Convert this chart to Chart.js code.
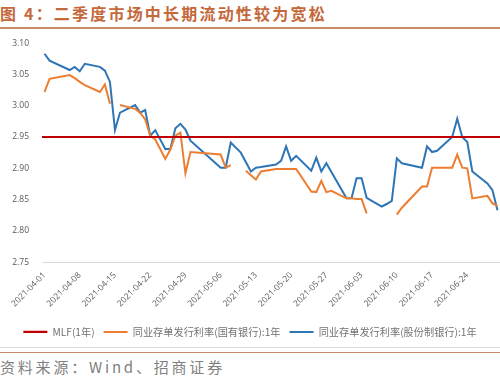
<!DOCTYPE html>
<html>
<head>
<meta charset="utf-8">
<script src="https://cdn.jsdelivr.net/npm/chart.js@4/dist/chart.umd.min.js"></script>
<style>
  html, body { margin: 0; padding: 0; background: #fff; }
  body { width: 500px; height: 376px; position: relative; overflow: hidden; font-family: "Noto Sans CJK SC", sans-serif; }
  #title { position: absolute; left: 0; top: 1px; font-size: 16px; font-weight: bold; color: #c4693c; letter-spacing: 2.2px; white-space: nowrap; }
  #titleLine { position: absolute; left: 0; top: 27px; width: 500px; height: 2px; background: #c98a66; }
  #box { position: absolute; left: 0; top: 33px; width: 500px; height: 314px; }
  #grayLine { position: absolute; left: 0; top: 347px; width: 500px; height: 1px; background: #dcdcdc; }
  #brownLine { position: absolute; left: 0; top: 352px; width: 500px; height: 1px; background: #c98a66; }
  #source { position: absolute; left: 0; top: 356px; font-size: 15px; color: #7f7f7f; letter-spacing: 2.8px; white-space: nowrap; }
</style>
</head>
<body>
<div id="title">图 4：二季度市场中长期流动性较为宽松</div>
<div id="titleLine"></div>
<div id="box"><canvas id="chart"></canvas></div>
<div id="grayLine"></div>
<div id="brownLine"></div>
<div id="source">资料来源：Wind、招商证券</div>
<script>
const seriesNames = ["MLF(1年)", "同业存单发行利率(国有银行):1年", "同业存单发行利率(股份制银行):1年"];
const mlfRate = 2.95;

const dates = [
  "2021-04-01", "2021-04-02", "2021-04-06", "2021-04-07", "2021-04-08", "2021-04-09",
  "2021-04-12", "2021-04-13", "2021-04-14", "2021-04-15", "2021-04-16",
  "2021-04-19", "2021-04-20", "2021-04-21", "2021-04-22", "2021-04-23", "2021-04-25",
  "2021-04-26", "2021-04-27", "2021-04-28", "2021-04-29", "2021-04-30",
  "2021-05-06", "2021-05-07", "2021-05-08",
  "2021-05-10", "2021-05-11", "2021-05-12", "2021-05-13", "2021-05-14",
  "2021-05-17", "2021-05-18", "2021-05-19", "2021-05-20", "2021-05-21",
  "2021-05-24", "2021-05-25", "2021-05-26", "2021-05-27", "2021-05-28",
  "2021-05-31", "2021-06-01", "2021-06-02", "2021-06-03", "2021-06-04",
  "2021-06-07", "2021-06-08", "2021-06-09", "2021-06-10", "2021-06-11",
  "2021-06-15", "2021-06-16", "2021-06-17", "2021-06-18",
  "2021-06-21", "2021-06-22", "2021-06-23", "2021-06-24", "2021-06-25",
  "2021-06-28", "2021-06-29", "2021-06-30"
];

// 国有银行
const stateBank = [
  3.022, 3.043, 3.049, 3.044, 3.038, 3.033,
  3.022, 3.034, 3.003, null, 3.001,
  2.995, 2.989, 2.978, 2.952, 2.946, 2.915,
  2.930, 2.952, 2.957, 2.892, 2.926,
  2.922, 2.901, 2.905,
  null, 2.896, 2.889, 2.882, 2.895,
  2.899, 2.899, 2.899, 2.899, 2.899,
  2.863, 2.862, 2.880, 2.862, 2.864,
  2.852, 2.852, 2.851, 2.851, 2.828,
  null, null, null, 2.826, 2.837,
  2.871, 2.871, 2.901, 2.901,
  2.901, 2.922, 2.901, 2.900, 2.852,
  2.856, 2.844, 2.840
];

// 股份制银行
const jointStock = [
  3.083, 3.072, 3.057, 3.062, 3.055, 3.067,
  3.062, 3.056, 3.038, 2.961, 2.989,
  3.001, 2.989, 2.993, 2.952, 2.961, 2.931,
  2.931, 2.964, 2.971, 2.962, 2.944,
  2.901, 2.901, 2.941,
  2.925, 2.910, 2.895, 2.901, 2.902,
  2.906, 2.912, 2.935, 2.912, 2.920,
  2.896, 2.917, 2.895, 2.908, 2.894,
  2.852, 2.852, 2.884, 2.884, 2.853,
  2.839, 2.843, 2.848, 2.916, 2.908,
  2.901, 2.935, 2.926, 2.928,
  2.950, 2.979, 2.950, 2.942, 2.895,
  2.876, 2.865, 2.833
];

const tickDates = ["2021-04-01", "2021-04-08", "2021-04-15", "2021-04-22", "2021-04-29", "2021-05-06",
  "2021-05-13", "2021-05-20", "2021-05-27", "2021-06-03", "2021-06-10", "2021-06-17", "2021-06-24"];

const start = Date.UTC(2021, 3, 1);
function dayOf(s) {
  const p = s.split("-");
  return Math.round((Date.UTC(+p[0], +p[1] - 1, +p[2]) - start) / 86400000);
}
function labelOf(d) {
  const t = new Date(start + d * 86400000);
  return t.toISOString().slice(0, 10);
}
const toPoints = arr => dates.map((d, i) => ({ x: dayOf(d), y: arr[i] }));
const lastDay = dayOf(dates[dates.length - 1]);

const tickFont = { family: "'Open Sans', 'Noto Sans CJK SC', sans-serif", size: 8.5 };

new Chart(document.getElementById("chart"), {
  type: "line",
  data: {
    datasets: [
      { label: seriesNames[0], data: [{ x: -0.5, y: mlfRate }, { x: lastDay + 0.5, y: mlfRate }],
        borderColor: "#c00000", backgroundColor: "#c00000", borderWidth: 2.2 },
      { label: seriesNames[1], data: toPoints(stateBank),
        borderColor: "#ed7d31", backgroundColor: "#ed7d31", borderWidth: 2 },
      { label: seriesNames[2], data: toPoints(jointStock),
        borderColor: "#2e75b6", backgroundColor: "#2e75b6", borderWidth: 2 }
    ]
  },
  options: {
    responsive: true,
    maintainAspectRatio: false,
    animation: false,
    spanGaps: false,
    elements: { point: { radius: 0 }, line: { tension: 0 } },
    layout: { padding: { left: 0, right: 0, top: 0, bottom: 0 } },
    scales: {
      x: {
        type: "linear",
        min: -0.5,
        max: lastDay + 0.5,
        afterFit: axis => { axis.height += 9; },
        grid: { display: false },
        border: { display: true, color: "#d9d9d9", width: 1 },
        afterBuildTicks: axis => { axis.ticks = tickDates.map(d => ({ value: dayOf(d) })); },
        ticks: {
          minRotation: 45, maxRotation: 45, autoSkip: false, padding: 0,
          color: "#595959", font: tickFont,
          callback: v => labelOf(v)
        }
      },
      y: {
        min: 2.75,
        max: 3.10,
        afterFit: axis => { axis.width = 42; },
        grid: { display: false },
        border: { display: false },
        ticks: {
          stepSize: 0.05, padding: 5, color: "#595959", font: tickFont,
          callback: v => v.toFixed(2)
        }
      }
    },
    plugins: {
      tooltip: { enabled: false },
      legend: {
        position: "bottom",
        labels: {
          usePointStyle: true, pointStyle: "line", pointStyleWidth: 24, padding: 9,
          color: "#737373", font: { family: "'Noto Sans CJK SC', sans-serif", size: 10.2 }
        }
      }
    }
  }
});
</script>
</body>
</html>
